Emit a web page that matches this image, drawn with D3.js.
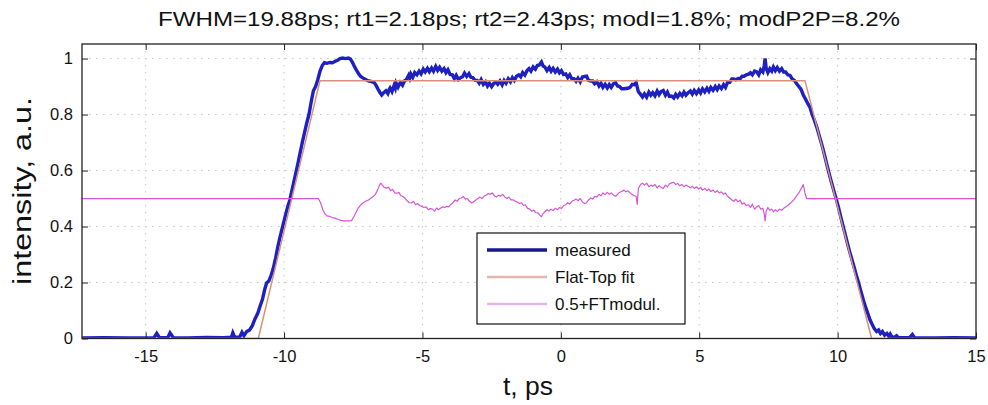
<!DOCTYPE html>
<html><head><meta charset="utf-8">
<script src="https://cdn.jsdelivr.net/npm/d3@7"></script>
<style>
html,body{margin:0;padding:0;background:#fff;}
svg{display:block;font-family:"Liberation Sans",Arial,sans-serif;}
</style></head>
<body>
<svg id="chart" width="988" height="405"></svg>
<script>
const titleText = "FWHM=19.88ps; rt1=2.18ps; rt2=2.43ps; modI=1.8%; modP2P=8.2%";
const xLabel = "t, ps";
const yLabel = "intensity, a.u.";
const xTicks = [-15, -10, -5, 0, 5, 10, 15];
const yTicks = [0, 0.2, 0.4, 0.6, 0.8, 1];
const yTickLabels = ["0", "0.2", "0.4", "0.6", "0.8", "1"];
const seriesNames = ["measured", "Flat-Top fit", "0.5+FTmodul."];

const measured = [[-17.3,0.002],[-16.5,0.003],[-15.6,0.002],[-14.7,0.003],[-14.6,0.018],[-14.5,0.003],[-14.2,0.003],[-14.12,0.02],[-14.0,0.003],[-13.5,0.002],[-12.8,0.004],[-12.2,0.003],[-11.9,0.005],[-11.85,0.02],[-11.78,0.004],[-11.6,0.006],[-11.52,0.022],[-11.45,0.01],[-11.35,0.025],[-11.25,0.03],[-11.15,0.045],[-11.05,0.07],[-10.95,0.09],[-10.87,0.114],[-10.78,0.14],[-10.7,0.175],[-10.63,0.198],[-10.55,0.205],[-10.47,0.225],[-10.39,0.25],[-10.3,0.29],[-10.22,0.33],[-10.15,0.36],[-10.05,0.40],[-9.95,0.44],[-9.87,0.47],[-9.79,0.495],[-9.7,0.535],[-9.6,0.58],[-9.5,0.625],[-9.42,0.663],[-9.33,0.705],[-9.25,0.74],[-9.18,0.77],[-9.1,0.80],[-9.02,0.845],[-8.94,0.885],[-8.86,0.90],[-8.78,0.925],[-8.7,0.955],[-8.62,0.975],[-8.54,0.985],[-8.45,0.983],[-8.35,0.986],[-8.25,0.985],[-8.15,0.99],[-8.05,0.995],[-7.98,1.0],[-7.88,1.002],[-7.78,1.0],[-7.68,1.002],[-7.6,0.998],[-7.52,0.985],[-7.45,0.97],[-7.38,0.958],[-7.3,0.945],[-7.22,0.935],[-7.14,0.93],[-7.05,0.925],[-6.95,0.92],[-6.85,0.918],[-6.75,0.915],[-6.68,0.905],[-6.6,0.89],[-6.53,0.878],[-6.47,0.87],[-6.4,0.878],[-6.32,0.885],[-6.25,0.875],[-6.2,0.89],[-6.17,0.895],[-6.1,0.882],[-6.02,0.905],[-5.98,0.895],[-5.95,0.912],[-5.88,0.898],[-5.8,0.915],[-5.72,0.905],[-5.65,0.92],[-5.58,0.925],[-5.5,0.94],[-5.46,0.93],[-5.42,0.945],[-5.35,0.933],[-5.28,0.95],[-5.2,0.942],[-5.12,0.955],[-5.05,0.945],[-4.97,0.962],[-4.9,0.952],[-4.82,0.965],[-4.75,0.953],[-4.67,0.966],[-4.6,0.955],[-4.52,0.972],[-4.45,0.958],[-4.38,0.969],[-4.3,0.955],[-4.22,0.964],[-4.15,0.95],[-4.08,0.96],[-4.0,0.943],[-3.92,0.942],[-3.85,0.928],[-3.78,0.94],[-3.7,0.925],[-3.62,0.932],[-3.55,0.935],[-3.48,0.948],[-3.4,0.936],[-3.32,0.946],[-3.25,0.933],[-3.18,0.932],[-3.1,0.922],[-3.02,0.922],[-2.95,0.912],[-2.88,0.925],[-2.8,0.908],[-2.72,0.917],[-2.65,0.902],[-2.58,0.912],[-2.5,0.9],[-2.42,0.912],[-2.35,0.916],[-2.28,0.908],[-2.2,0.92],[-2.12,0.906],[-2.05,0.922],[-1.98,0.912],[-1.9,0.928],[-1.82,0.917],[-1.75,0.932],[-1.68,0.922],[-1.6,0.937],[-1.52,0.942],[-1.45,0.935],[-1.38,0.95],[-1.3,0.941],[-1.22,0.957],[-1.15,0.964],[-1.08,0.955],[-1.0,0.97],[-0.92,0.962],[-0.85,0.975],[-0.78,0.977],[-0.7,0.988],[-0.64,0.973],[-0.58,0.97],[-0.5,0.957],[-0.42,0.968],[-0.35,0.955],[-0.28,0.965],[-0.2,0.952],[-0.12,0.962],[-0.05,0.949],[0.02,0.957],[0.1,0.943],[0.18,0.945],[0.25,0.932],[0.32,0.942],[0.4,0.927],[0.48,0.928],[0.55,0.919],[0.62,0.93],[0.7,0.917],[0.78,0.934],[0.86,0.936],[0.93,0.937],[1.0,0.922],[1.08,0.92],[1.15,0.92],[1.22,0.91],[1.3,0.917],[1.38,0.902],[1.45,0.912],[1.52,0.897],[1.6,0.908],[1.68,0.895],[1.75,0.907],[1.82,0.897],[1.9,0.91],[1.98,0.914],[2.05,0.902],[2.12,0.9],[2.2,0.892],[2.28,0.892],[2.35,0.893],[2.42,0.894],[2.5,0.897],[2.58,0.908],[2.65,0.907],[2.72,0.914],[2.8,0.882],[2.88,0.872],[2.95,0.863],[3.02,0.874],[3.1,0.862],[3.18,0.88],[3.25,0.869],[3.32,0.878],[3.4,0.867],[3.48,0.884],[3.55,0.871],[3.62,0.882],[3.7,0.886],[3.78,0.869],[3.85,0.88],[3.92,0.865],[4.0,0.866],[4.08,0.859],[4.15,0.872],[4.22,0.863],[4.3,0.876],[4.38,0.867],[4.45,0.88],[4.52,0.869],[4.6,0.878],[4.68,0.884],[4.75,0.873],[4.82,0.886],[4.9,0.875],[4.98,0.888],[5.05,0.877],[5.12,0.892],[5.2,0.881],[5.28,0.894],[5.35,0.883],[5.42,0.897],[5.5,0.887],[5.58,0.9],[5.65,0.889],[5.72,0.902],[5.8,0.893],[5.88,0.907],[5.95,0.897],[6.02,0.914],[6.1,0.915],[6.18,0.927],[6.25,0.927],[6.32,0.924],[6.4,0.929],[6.48,0.928],[6.55,0.937],[6.62,0.937],[6.7,0.942],[6.78,0.944],[6.85,0.949],[6.92,0.942],[7.0,0.955],[7.08,0.952],[7.15,0.942],[7.22,0.96],[7.3,0.952],[7.35,0.975],[7.38,1.0],[7.42,0.965],[7.48,0.95],[7.55,0.964],[7.62,0.955],[7.68,0.97],[7.75,0.957],[7.82,0.968],[7.9,0.955],[7.98,0.964],[8.05,0.952],[8.12,0.952],[8.2,0.942],[8.28,0.94],[8.36,0.927],[8.44,0.922],[8.52,0.91],[8.6,0.9],[8.68,0.89],[8.76,0.87],[8.84,0.855],[8.92,0.84],[9.0,0.826],[9.08,0.8],[9.16,0.78],[9.24,0.757],[9.32,0.73],[9.4,0.703],[9.48,0.674],[9.56,0.642],[9.64,0.61],[9.72,0.579],[9.8,0.55],[9.88,0.522],[9.96,0.495],[10.04,0.465],[10.12,0.432],[10.2,0.4],[10.28,0.37],[10.36,0.338],[10.45,0.305],[10.53,0.278],[10.61,0.25],[10.69,0.221],[10.77,0.196],[10.85,0.165],[10.93,0.138],[11.01,0.112],[11.09,0.09],[11.17,0.067],[11.25,0.05],[11.33,0.035],[11.41,0.025],[11.48,0.03],[11.55,0.018],[11.62,0.025],[11.7,0.012],[11.78,0.018],[11.85,0.008],[11.9,0.016],[11.96,0.006],[12.05,0.004],[12.13,0.01],[12.2,0.003],[12.6,0.003],[12.7,0.014],[12.78,0.003],[13.5,0.002],[14.2,0.003],[15,0.002]];

const flatTopFit = [[-17.3,0],[-10.93,0],[-8.7,0.921],[8.82,0.921],[11.23,0],[15,0]];

const modulation = [[-17.3,0.5],[-8.76,0.5],[-8.68,0.485],[-8.6,0.46],[-8.52,0.445],[-8.45,0.438],[-8.35,0.436],[-8.25,0.432],[-8.15,0.43],[-8.05,0.425],[-7.95,0.422],[-7.85,0.42],[-7.75,0.42],[-7.65,0.42],[-7.56,0.421],[-7.48,0.435],[-7.4,0.45],[-7.32,0.466],[-7.22,0.478],[-7.14,0.485],[-7.05,0.49],[-6.95,0.495],[-6.85,0.502],[-6.78,0.507],[-6.7,0.515],[-6.62,0.53],[-6.55,0.548],[-6.5,0.555],[-6.45,0.548],[-6.38,0.54],[-6.3,0.537],[-6.22,0.54],[-6.15,0.528],[-6.08,0.533],[-6.0,0.52],[-5.93,0.519],[-5.85,0.522],[-5.78,0.51],[-5.7,0.507],[-5.62,0.5],[-5.55,0.492],[-5.48,0.485],[-5.4,0.484],[-5.32,0.49],[-5.25,0.478],[-5.18,0.482],[-5.1,0.475],[-5.02,0.472],[-4.95,0.468],[-4.87,0.47],[-4.79,0.46],[-4.72,0.464],[-4.64,0.462],[-4.56,0.455],[-4.49,0.466],[-4.42,0.46],[-4.35,0.465],[-4.28,0.47],[-4.2,0.468],[-4.12,0.472],[-4.05,0.47],[-3.98,0.478],[-3.9,0.485],[-3.82,0.495],[-3.75,0.49],[-3.67,0.5],[-3.6,0.502],[-3.52,0.507],[-3.45,0.498],[-3.38,0.5],[-3.3,0.49],[-3.22,0.484],[-3.15,0.488],[-3.08,0.494],[-3.0,0.5],[-2.92,0.505],[-2.85,0.5],[-2.78,0.508],[-2.7,0.512],[-2.62,0.518],[-2.55,0.515],[-2.48,0.52],[-2.4,0.51],[-2.33,0.505],[-2.25,0.512],[-2.18,0.508],[-2.1,0.515],[-2.02,0.505],[-1.95,0.5],[-1.88,0.505],[-1.8,0.495],[-1.72,0.495],[-1.65,0.49],[-1.58,0.488],[-1.5,0.482],[-1.42,0.485],[-1.35,0.475],[-1.28,0.478],[-1.2,0.465],[-1.12,0.462],[-1.05,0.455],[-0.98,0.458],[-0.9,0.45],[-0.82,0.448],[-0.75,0.44],[-0.7,0.435],[-0.65,0.445],[-0.58,0.452],[-0.5,0.46],[-0.43,0.455],[-0.36,0.462],[-0.28,0.457],[-0.2,0.465],[-0.12,0.46],[-0.05,0.468],[0.02,0.465],[0.1,0.475],[0.18,0.478],[0.25,0.485],[0.32,0.48],[0.4,0.49],[0.48,0.494],[0.55,0.498],[0.62,0.492],[0.7,0.5],[0.78,0.488],[0.86,0.482],[0.93,0.485],[1.0,0.495],[1.08,0.502],[1.15,0.498],[1.22,0.508],[1.3,0.505],[1.38,0.515],[1.45,0.51],[1.52,0.52],[1.6,0.514],[1.68,0.522],[1.75,0.515],[1.82,0.52],[1.9,0.512],[1.98,0.508],[2.05,0.515],[2.12,0.522],[2.2,0.525],[2.28,0.53],[2.35,0.524],[2.42,0.528],[2.5,0.52],[2.58,0.514],[2.65,0.51],[2.72,0.508],[2.76,0.48],[2.8,0.535],[2.88,0.55],[2.95,0.555],[3.02,0.548],[3.1,0.555],[3.18,0.542],[3.25,0.548],[3.32,0.544],[3.4,0.55],[3.48,0.538],[3.55,0.546],[3.62,0.54],[3.7,0.536],[3.78,0.548],[3.85,0.542],[3.92,0.552],[4.0,0.556],[4.08,0.558],[4.15,0.55],[4.22,0.554],[4.3,0.546],[4.38,0.55],[4.45,0.542],[4.52,0.548],[4.6,0.544],[4.68,0.538],[4.75,0.544],[4.82,0.536],[4.9,0.542],[4.98,0.534],[5.05,0.54],[5.12,0.53],[5.2,0.536],[5.28,0.528],[5.35,0.534],[5.42,0.525],[5.5,0.53],[5.58,0.522],[5.65,0.528],[5.72,0.52],[5.8,0.524],[5.88,0.515],[5.95,0.52],[6.02,0.508],[6.1,0.502],[6.18,0.495],[6.25,0.49],[6.32,0.498],[6.4,0.488],[6.48,0.494],[6.55,0.48],[6.62,0.485],[6.7,0.475],[6.78,0.478],[6.85,0.468],[6.92,0.48],[7.0,0.462],[7.08,0.47],[7.15,0.475],[7.22,0.462],[7.3,0.465],[7.35,0.445],[7.38,0.42],[7.42,0.455],[7.48,0.468],[7.55,0.458],[7.62,0.462],[7.68,0.452],[7.75,0.46],[7.82,0.454],[7.9,0.462],[7.98,0.458],[8.05,0.465],[8.12,0.47],[8.2,0.475],[8.28,0.482],[8.36,0.49],[8.44,0.498],[8.52,0.51],[8.6,0.52],[8.68,0.535],[8.76,0.55],[8.82,0.52],[8.88,0.5],[15,0.5]];

const seriesColors = ["#1e20c0", "#d8907c", "#d456d4"];
const legendColors = ["#18188c", "#e4b4b0", "#e6b4e6"];
const seriesWidths = [3.4, 1.5, 1.2];

const svg = d3.select("#chart");
const M = {left: 82, right: 976, top: 44, bottom: 338.5};
const x = d3.scaleLinear().domain([-17.3, 15]).range([M.left, M.right]);
const y = d3.scaleLinear().domain([0, 1.052]).range([M.bottom, M.top]);
const W = M.right - M.left, H = M.bottom - M.top;

svg.append("rect").attr("x",0).attr("y",0).attr("width",988).attr("height",405).attr("fill","#fff");

// grid
const grid = svg.append("g");
grid.selectAll(".gx").data(xTicks.filter(t=>t>-17.3 && t<15)).join("line")
  .attr("x1",d=>x(d)).attr("x2",d=>x(d)).attr("y1",M.top).attr("y2",M.bottom)
  .attr("stroke","#c4c4c4").attr("stroke-width",1).attr("stroke-dasharray","1.5,5.5");
grid.selectAll(".gy").data(yTicks.filter(t=>t>0)).join("line")
  .attr("x1",M.left).attr("x2",M.right).attr("y1",d=>y(d)).attr("y2",d=>y(d))
  .attr("stroke","#c4c4c4").attr("stroke-width",1).attr("stroke-dasharray","1.5,5.5");

// clip
svg.append("clipPath").attr("id","clip").append("rect")
  .attr("x",M.left).attr("y",M.top).attr("width",W).attr("height",H);

const line = d3.line().x(d=>x(d[0])).y(d=>y(d[1]));
const plot = svg.append("g").attr("clip-path","url(#clip)");
[measured, flatTopFit, modulation].forEach((s,i)=>{
  plot.append("path").datum(s).attr("d",line).attr("fill","none")
    .attr("stroke",seriesColors[i]).attr("stroke-width",seriesWidths[i])
    .attr("stroke-linejoin", i===0 ? "miter" : "round");
});

// axes (MATLAB style, inward ticks, box)
const axCol = "#222";
const xAxB = d3.axisBottom(x).tickValues(xTicks).tickSizeInner(-6).tickSizeOuter(0).tickPadding(12).tickFormat(d=>String(d));
const gxb = svg.append("g").attr("transform",`translate(0,${M.bottom})`).call(xAxB);
const xAxT = d3.axisTop(x).tickValues(xTicks).tickSizeInner(-6).tickSizeOuter(0).tickFormat("");
const gxt = svg.append("g").attr("transform",`translate(0,${M.top})`).call(xAxT);
const yAxL = d3.axisLeft(y).tickValues(yTicks).tickSizeInner(-6).tickSizeOuter(0).tickPadding(9).tickFormat((d,i)=>yTickLabels[i]);
const gyl = svg.append("g").attr("transform",`translate(${M.left},0)`).call(yAxL);
const yAxR = d3.axisRight(y).tickValues(yTicks).tickSizeInner(-6).tickSizeOuter(0).tickFormat("");
const gyr = svg.append("g").attr("transform",`translate(${M.right},0)`).call(yAxR);
[gxb,gxt,gyl,gyr].forEach(g=>{
  g.select(".domain").remove();
  g.selectAll(".tick line").attr("stroke",axCol).attr("stroke-width",1);
  g.selectAll(".tick text").attr("fill","#111").style("font-family","'Liberation Sans',Arial,sans-serif").style("font-size","16.5px");
});
gxb.selectAll(".tick text").attr("dy","0.71em");
svg.append("rect").attr("x",M.left).attr("y",M.top).attr("width",W).attr("height",H)
  .attr("fill","none").attr("stroke",axCol).attr("stroke-width",1.3);

// labels
svg.append("text").attr("x",529).attr("y",26).attr("text-anchor","middle")
  .style("font-size","19.5px").attr("fill","#111")
  .attr("textLength",742).attr("lengthAdjust","spacingAndGlyphs").text(titleText);
svg.append("text").attr("x",528).attr("y",395).attr("text-anchor","middle")
  .style("font-size","25px").attr("fill","#111")
  .attr("textLength",50).attr("lengthAdjust","spacingAndGlyphs").text(xLabel);
svg.append("text").attr("transform","translate(31,191) rotate(-90)").attr("text-anchor","middle")
  .style("font-size","25px").attr("fill","#111")
  .attr("textLength",188).attr("lengthAdjust","spacingAndGlyphs").text(yLabel);

// legend
const lg = svg.append("g");
lg.append("rect").attr("x",477).attr("y",233).attr("width",208).attr("height",91)
  .attr("fill","#fff").attr("stroke","#111").attr("stroke-width",1.2);
seriesNames.forEach((n,i)=>{
  const yy = 250 + i*27;
  lg.append("line").attr("x1",487).attr("x2",547).attr("y1",yy).attr("y2",yy)
    .attr("stroke",legendColors[i]).attr("stroke-width",i===0?3.5:2.5);
  lg.append("text").attr("x",555).attr("y",yy+6).style("font-size","17px").attr("fill","#111").text(n);
});
</script>
</body></html>
